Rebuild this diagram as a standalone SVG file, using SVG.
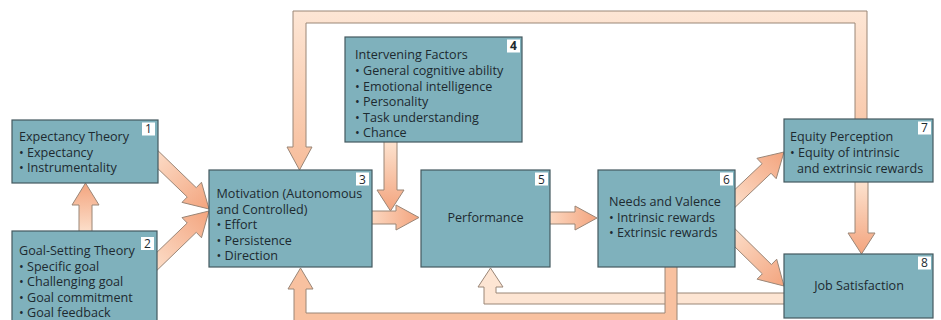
<svg xmlns="http://www.w3.org/2000/svg" width="941" height="320" viewBox="0 0 941 320">
  <defs>
    <linearGradient id="gDown" x1="0" y1="0" x2="0" y2="1">
      <stop offset="0" stop-color="#fde4d1"/>
      <stop offset="1" stop-color="#f3a47e"/>
    </linearGradient>
    <linearGradient id="gUp" x1="0" y1="1" x2="0" y2="0">
      <stop offset="0" stop-color="#fde4d1"/>
      <stop offset="1" stop-color="#f3a47e"/>
    </linearGradient>
    <linearGradient id="gRight" x1="0" y1="0" x2="1" y2="0">
      <stop offset="0" stop-color="#fcd9c2"/>
      <stop offset="1" stop-color="#f3a47e"/>
    </linearGradient>
    <linearGradient id="gDR" x1="0" y1="0" x2="1" y2="1">
      <stop offset="0" stop-color="#fde4d1"/>
      <stop offset="1" stop-color="#f3a47e"/>
    </linearGradient>
    <linearGradient id="gUR" x1="0" y1="1" x2="1" y2="0">
      <stop offset="0" stop-color="#fde4d1"/>
      <stop offset="1" stop-color="#f3a47e"/>
    </linearGradient>
    <linearGradient id="gLoopTop" x1="0" y1="0" x2="0" y2="1">
      <stop offset="0" stop-color="#fde6d5"/>
      <stop offset="1" stop-color="#f7bd9b"/>
    </linearGradient>
    <style>
      .box { fill: #7fb1bc; stroke: #44595f; stroke-width: 1.2; }
      .tag { fill: #ffffff; stroke: none; }
      .arrow { stroke: #9a8677; stroke-width: 1; stroke-linejoin: miter; }
      text { font-family: "Open Sans", "Liberation Sans", sans-serif; font-size: 12.6px; fill: #1d2a30; }
      .num { font-size: 12px; text-anchor: middle; }
      .mid { text-anchor: middle; }
    </style>
  </defs>

  <!-- connectors: drawn first so their tails tuck under the boxes -->
  <g id="connectors">
    <!-- 8 -> 5 feedback -->
    <polygon class="arrow" fill="#fde5d3" points="786,293 786,304 484,304 484,287 478,287 490.5,268 503,287 496,287 496,293"/>
    <!-- 6 -> 3 feedback -->
    <polygon class="arrow" fill="#f8c1a0" points="677,265 677,326 294,326 294,289 288,289 300.5,268 313,289 306,289 306,313 665,313 665,265"/>
    <!-- 7 -> 3 feedback over the top -->
    <polygon class="arrow" fill="url(#gLoopTop)" points="867,121 867,11 293,11 293,147 287,147 299.5,170 312,147 306,147 306,23 855,23 855,121"/>
    <!-- 2 -> 1 -->
    <polygon class="arrow" fill="url(#gUp)" points="79,236 79,205 72,205 85.5,183 99,205 92,205 92,236"/>
    <!-- 1 -> 3 -->
    <polygon class="arrow" fill="url(#gDR)" points="145.48,156.67 187.22,196.99 182.01,202.39 209,209 201.47,182.25 196.26,187.65 154.52,147.33"/>
    <!-- 2 -> 3 -->
    <polygon class="arrow" fill="url(#gUR)" points="154.52,272.67 196.26,232.35 201.47,237.75 209,211 182.01,217.61 187.22,223.01 145.48,263.33"/>
    <!-- 3 -> 5 -->
    <polygon class="arrow" fill="url(#gRight)" points="370,211 396,211 396,205 419,217.5 396,230 396,224 370,224"/>
    <!-- 4 -> (3 -> 5) -->
    <polygon class="arrow" fill="url(#gDown)" points="384,140 384,190 377,190 390.5,211 404,190 397,190 397,140"/>
    <!-- 5 -> 6 -->
    <polygon class="arrow" fill="url(#gRight)" points="548,212 575,212 575,206 597,218 575,230 575,224 548,224"/>
    <!-- 6 -> 7 -->
    <polygon class="arrow" fill="url(#gUR)" points="732.47,209.72 771.04,173.22 776.19,178.67 784,152 756.95,158.33 762.10,163.78 723.53,200.28"/>
    <!-- 6 -> 8 -->
    <polygon class="arrow" fill="url(#gDR)" points="723.45,235.64 762.33,273.82 757.07,279.17 784,286 776.69,259.19 771.43,264.54 732.55,226.36"/>
    <!-- 7 -> 8 -->
    <polygon class="arrow" fill="url(#gDown)" points="855,180 855,233 848,233 861.5,254 875,233 868,233 868,180"/>
  </g>

  <g id="node1">
    <rect class="box" x="12" y="120" width="146" height="63"/>
    <rect class="tag" x="142" y="122.5" width="13" height="13"/>
    <text class="num" x="148.5" y="133">1</text>
    <text x="19" y="141">Expectancy Theory</text>
    <text x="19" y="156.5">• Expectancy</text>
    <text x="19" y="172">• Instrumentality</text>
  </g>

  <g id="node2">
    <rect class="box" x="12" y="231" width="145" height="95"/>
    <rect class="tag" x="141" y="237" width="13" height="13"/>
    <text class="num" x="147.5" y="247.5">2</text>
    <text x="19" y="255">Goal-Setting Theory</text>
    <text x="19" y="270.5">• Specific goal</text>
    <text x="19" y="286">• Challenging goal</text>
    <text x="19" y="301.5">• Goal commitment</text>
    <text x="19" y="317">• Goal feedback</text>
  </g>

  <g id="node3">
    <rect class="box" x="209" y="170" width="163" height="97"/>
    <rect class="tag" x="356" y="172.5" width="13" height="13"/>
    <text class="num" x="362.5" y="183.5">3</text>
    <text x="216.5" y="198">Motivation (Autonomous</text>
    <text x="216.5" y="213.5">and Controlled)</text>
    <text x="216.5" y="229">• Effort</text>
    <text x="216.5" y="244.5">• Persistence</text>
    <text x="216.5" y="260">• Direction</text>
  </g>

  <g id="node4">
    <rect class="box" x="345" y="37" width="177" height="105"/>
    <rect class="tag" x="507" y="39.5" width="13" height="13"/>
    <text class="num" x="513.5" y="50" font-weight="bold">4</text>
    <text x="355" y="59">Intervening Factors</text>
    <text x="355" y="75">• General cognitive ability</text>
    <text x="355" y="90.5">• Emotional intelligence</text>
    <text x="355" y="106">• Personality</text>
    <text x="355" y="121.5">• Task understanding</text>
    <text x="355" y="137">• Chance</text>
  </g>

  <g id="node5">
    <rect class="box" x="421" y="170" width="129" height="97"/>
    <rect class="tag" x="535" y="172.5" width="13" height="13"/>
    <text class="num" x="541.5" y="183.5">5</text>
    <text class="mid" x="485.5" y="221.5">Performance</text>
  </g>

  <g id="node6">
    <rect class="box" x="598" y="170" width="137" height="97"/>
    <rect class="tag" x="720" y="172.5" width="13" height="13"/>
    <text class="num" x="726.5" y="183.5">6</text>
    <text x="609" y="206">Needs and Valence</text>
    <text x="609" y="221.5">• Intrinsic rewards</text>
    <text x="609" y="237">• Extrinsic rewards</text>
  </g>

  <g id="node7">
    <rect class="box" x="784" y="119" width="149" height="63"/>
    <rect class="tag" x="918" y="121.5" width="13" height="13"/>
    <text class="num" x="924.5" y="132">7</text>
    <text x="790" y="141">Equity Perception</text>
    <text x="790" y="157">• Equity of intrinsic</text>
    <text x="797" y="172.5">and extrinsic rewards</text>
  </g>

  <g id="node8">
    <rect class="box" x="784" y="254" width="149" height="64"/>
    <rect class="tag" x="918" y="256.5" width="13" height="13"/>
    <text class="num" x="924.5" y="267">8</text>
    <text class="mid" x="859" y="290">Job Satisfaction</text>
  </g>
</svg>
